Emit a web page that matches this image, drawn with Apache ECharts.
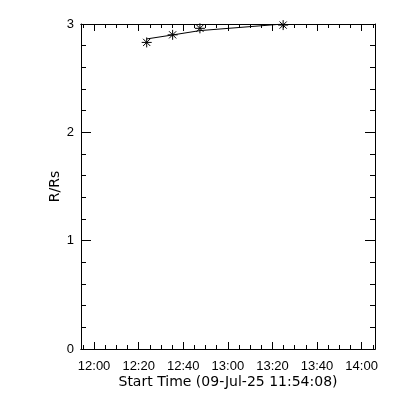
<!DOCTYPE html>
<html>
<head>
<meta charset="utf-8">
<script src="https://cdn.jsdelivr.net/npm/echarts@6/dist/echarts.min.js"></script>
<style>html,body{margin:0;padding:0;background:#fff}#c{width:400px;height:400px}</style>
</head>
<body>
<div id="c"></div>
<script>
// Data
var obsTimes = ["12:23:36", "12:35:14", "12:47:28", "13:24:48"];
var obsHeights = [2.83, 2.90, 2.96, 2.99];
var fitHeights = [2.862, 2.899, 2.939, 3.0];
var xStart = "11:54:08";
var xEnd = "14:06:00";
var xMajorTicks = ["12:00", "12:20", "12:40", "13:00", "13:20", "13:40", "14:00"];
var xTitle = "Start Time (09-Jul-25 11:54:08)";
var yTitle = "R/Rs";

function toMin(s) { // minutes relative to 12:00
  var p = s.split(":").map(Number);
  return (p[0] - 12) * 60 + p[1] + (p[2] || 0) / 60;
}
function fmt(m) {
  var t = Math.round(m) + 720;
  var h = Math.floor(t / 60), mm = t % 60;
  return (h < 10 ? "0" : "") + h + ":" + (mm < 10 ? "0" : "") + mm;
}
var xmin = toMin(xStart), xmax = toMin(xEnd);
var major = xMajorTicks.map(toMin);
var minor = [];
for (var v = Math.ceil(xmin / 5) * 5; v <= xmax; v += 5) minor.push(v);

var obsData = obsTimes.map(function (t, i) { return [toMin(t), obsHeights[i]]; });
var fitData = obsTimes.map(function (t, i) { return [toMin(t), fitHeights[i]]; });

var font = "Liberation Sans";
function xAx(pos, ticks, len, labels) {
  return {
    type: "value", position: pos, min: xmin, max: xmax,
    axisLine: { show: true, onZero: false, lineStyle: { color: "#000", width: 1 } },
    axisTick: { show: true, inside: true, length: len, customValues: ticks, lineStyle: { color: "#000" } },
    axisLabel: labels ? { show: true, customValues: major, formatter: fmt, color: "#000", fontFamily: font, fontSize: 13, margin: 11 } : { show: false },
    splitLine: { show: false },
    name: labels ? xTitle : "", nameLocation: "middle", nameGap: 26, nameMoveOverlap: false,
    nameTextStyle: { color: "#000", fontFamily: "DejaVu Sans", fontSize: 14 }
  };
}
function yAx(pos, labels) {
  return {
    type: "value", position: pos, min: 0, max: 3, interval: 1,
    axisLine: { show: true, onZero: false, lineStyle: { color: "#000", width: 1 } },
    axisTick: { show: true, inside: true, length: 10, lineStyle: { color: "#000" } },
    minorTick: { show: true, splitNumber: 5, length: 5, lineStyle: { color: "#000" } },
    axisLabel: { show: labels, color: "#000", fontFamily: font, fontSize: 13, margin: 7 },
    splitLine: { show: false },
    name: labels ? yTitle : "", nameLocation: "middle", nameGap: 19, nameRotate: 90, nameMoveOverlap: false,
    nameTextStyle: { color: "#000", fontFamily: "DejaVu Sans", fontSize: 14 }
  };
}

// asterisk marker drawn through the axis scales
function renderStar(params, api) {
  var c = api.coord([api.value(0), api.value(1)]);
  var r = 5, d = 3.6;
  var segs = [[0, -r, 0, r], [-r, 0, r, 0], [-d, -d, d, d], [-d, d, d, -d]];
  return {
    type: "group",
    children: segs.map(function (s) {
      return {
        type: "line",
        shape: { x1: c[0] + s[0], y1: c[1] + s[1], x2: c[0] + s[2], y2: c[1] + s[3] },
        style: { stroke: "#000", lineWidth: 1 }
      };
    })
  };
}

var chart = echarts.init(document.getElementById("c"), null, { renderer: "canvas" });
chart.setOption({
  backgroundColor: "#fff",
  animation: false,
  grid: { left: 81, right: 25, top: 24, bottom: 51, containLabel: false },
  xAxis: [
    xAx("bottom", major, 7, true),
    xAx("bottom", minor, 4, false),
    xAx("top", major, 7, false),
    xAx("top", minor, 4, false)
  ],
  yAxis: [yAx("left", true), yAx("right", false)],
  series: [
    {
      type: "line", data: fitData, xAxisIndex: 0, yAxisIndex: 0, silent: true,
      symbol: "none", showSymbol: false, lineStyle: { color: "#000", width: 1 }
    },
    {
      type: "custom", data: obsData, xAxisIndex: 0, yAxisIndex: 0, silent: true,
      clip: false, renderItem: renderStar
    }
  ]
});
</script>
</body>
</html>
